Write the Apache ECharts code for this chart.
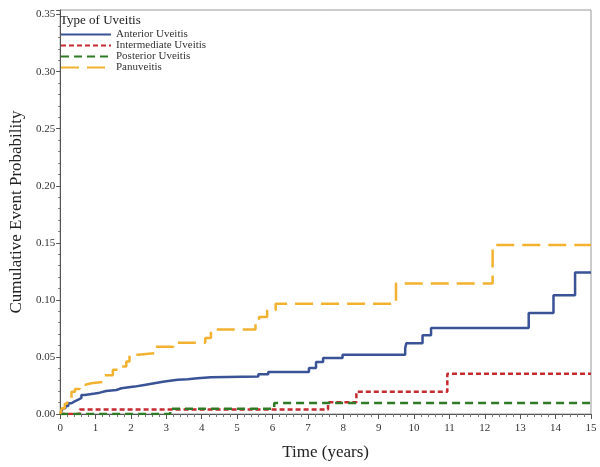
<!DOCTYPE html>
<html>
<head>
<meta charset="utf-8">
<script src="https://cdn.jsdelivr.net/npm/echarts@6/dist/echarts.min.js"></script>
<style>html,body{margin:0;padding:0;background:#fff}#c{width:600px;height:467px}</style>
</head>
<body>
<div id="c"></div>
<script>
// Data (time in years, cumulative event probability)
const seriesNames = ['Anterior Uveitis', 'Intermediate Uveitis', 'Posterior Uveitis', 'Panuveitis'];

const anteriorTimes = [0, 0.03, 0.08, 0.15, 0.23, 0.32, 0.41, 0.5, 0.6, 0.7, 0.98, 1.12, 1.3, 1.59, 1.73, 2.1, 2.38, 2.66, 2.95, 3.32, 3.6, 3.88, 4.26, 5.6, 5.88, 7.03, 7.23, 7.43, 7.98, 9.75, 9.78, 10.24, 10.48, 13.24, 13.94, 14.55, 15];
const anteriorProb  = [0, 0.002, 0.005, 0.007, 0.0094, 0.011, 0.0123, 0.014, 0.0167, 0.018, 0.0187, 0.0202, 0.021, 0.0226, 0.024, 0.0255, 0.027, 0.0284, 0.030, 0.0305, 0.0314, 0.0323, 0.0328, 0.0349, 0.0369, 0.0402, 0.0455, 0.049, 0.0519, 0.0578, 0.062, 0.0689, 0.0754, 0.0886, 0.104, 0.124, 0.124];

const intermediateTimes = [0, 0.55, 7.57, 8.37, 10.94, 15];
const intermediateProb  = [0, 0.004, 0.0103, 0.0196, 0.0352, 0.0352];

const posteriorTimes = [0, 3.11, 6.05, 15];
const posteriorProb  = [0, 0.0045, 0.0097, 0.0097];

const panTimes = [0, 0.05, 0.13, 0.2, 0.32, 0.42, 0.55, 0.7, 0.88, 1.21, 1.26, 1.49, 1.63, 1.87, 1.96, 2.2, 2.7, 3.2, 4.1, 4.26, 5.52, 5.62, 5.85, 6.09, 9.49, 12.22, 15];
const panProb  = [0, 0.005, 0.009, 0.013, 0.0196, 0.022, 0.0255, 0.027, 0.028, 0.030, 0.034, 0.0387, 0.0416, 0.046, 0.052, 0.0534, 0.059, 0.0625, 0.0666, 0.074, 0.079, 0.085, 0.091, 0.0965, 0.1143, 0.148, 0.148];

const xTicks = [0,1,2,3,4,5,6,7,8,9,10,11,12,13,14,15];
const yTicks = [0, 0.05, 0.10, 0.15, 0.20, 0.25, 0.30, 0.35];

function pairs(t, v) { return t.map((x, i) => [x, v[i]]); }

const FONT = '"Liberation Serif", "DejaVu Serif", serif';
const chart = echarts.init(document.getElementById('c'), null, {renderer: 'canvas'});

function mk(name, t, v, color, type, width) {
  return {
    name: name, type: 'line', step: 'end', showSymbol: false, symbol: 'none',
    data: pairs(t, v),
    lineStyle: {color: color, width: width, type: type, cap: 'butt'},
    itemStyle: {color: color},
    animation: false
  };
}

chart.setOption({
  animation: false,
  backgroundColor: '#fff',
  title: {
    text: 'Type of Uveitis', left: 55, top: 9,
    textStyle: {fontFamily: FONT, fontSize: 13, fontWeight: 'normal', color: '#222'}
  },
  legend: {
    orient: 'vertical', left: 55, top: 24, itemWidth: 50, itemHeight: 8, itemGap: 0,
    itemStyle: {opacity: 0},
    textStyle: {fontFamily: FONT, fontSize: 11, color: '#333', lineHeight: 10},
    data: seriesNames
  },
  grid: {left: 56, right: 9, top: 10, bottom: 53, show: true, borderColor: '#999', borderWidth: 1, containLabel: false},
  xAxis: {
    type: 'value', min: 0, max: 15, interval: 1,
    name: 'Time (years)', nameLocation: 'middle', nameGap: 30,
    nameTextStyle: {fontFamily: FONT, fontSize: 17, color: '#222'},
    axisLine: {show: true, onZero: false, lineStyle: {color: '#555'}},
    axisTick: {show: true, length: 5, inside: false, lineStyle: {color: '#555'}},
    minorTick: {show: true, splitNumber: 5, length: 3, lineStyle: {color: '#777'}},
    axisLabel: {fontFamily: FONT, fontSize: 11, color: '#333', margin: 9,
      formatter: v => xTicks.includes(v) ? String(v) : ''},
    splitLine: {show: false}
  },
  yAxis: {
    type: 'value', min: 0, max: 0.354, interval: 0.05,
    name: 'Cumulative Event Probability', nameLocation: 'middle', nameGap: 27,
    nameTextStyle: {fontFamily: FONT, fontSize: 17, color: '#222'},
    axisLine: {show: true, onZero: false, lineStyle: {color: '#555'}},
    axisTick: {show: true, length: 4, lineStyle: {color: '#555'}},
    minorTick: {show: true, splitNumber: 5, length: 2, lineStyle: {color: '#777'}},
    axisLabel: {fontFamily: FONT, fontSize: 11, color: '#333', margin: 5, showMaxLabel: true,
      formatter: v => {
        const m = yTicks.find(t => Math.abs(t - v) < 1e-6);
        return m === undefined ? '' : m.toFixed(2);
      }},
    splitLine: {show: false}
  },
  series: [
    mk(seriesNames[0], anteriorTimes, anteriorProb, '#3A5396', 'solid', 2.5),
    mk(seriesNames[1], intermediateTimes, intermediateProb, '#C42A30', [5, 3], 2.5),
    mk(seriesNames[2], posteriorTimes, posteriorProb, '#2F7A25', [8, 5], 2.5),
    mk(seriesNames[3], panTimes, panProb, '#F2B230', [18, 8], 2.5)
  ]
});
</script>
</body>
</html>
